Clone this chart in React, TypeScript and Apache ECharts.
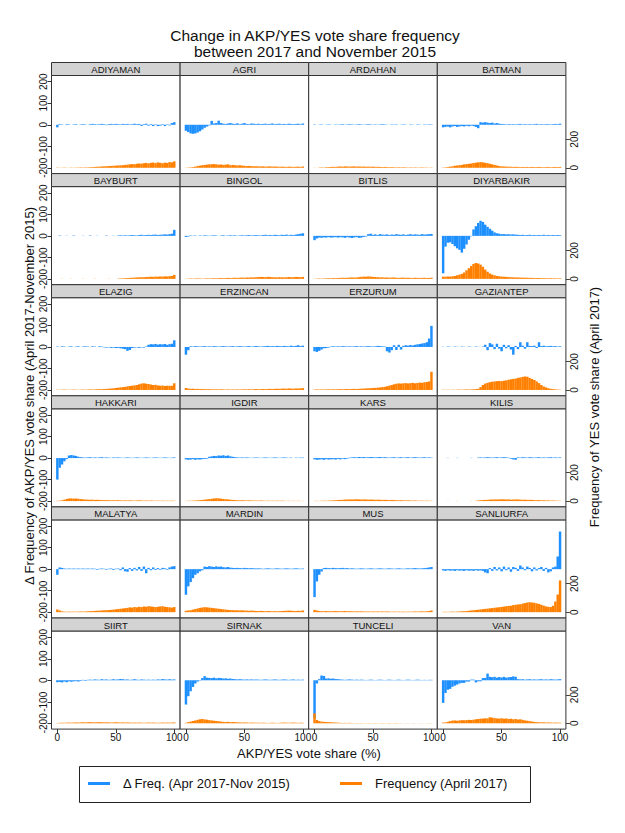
import React, { useEffect, useRef } from 'react';
import * as echarts from 'echarts';

// ---- bins (AKP/YES vote share, %) and tick values ----
const xBins = [0, 2, 4, 6, 8, 10, 12, 14, 16, 18, 20, 22, 24, 26, 28, 30, 32, 34, 36, 38, 40, 42, 44, 46, 48, 50, 52, 54, 56, 58, 60, 62, 64, 66, 68, 70, 72, 74, 76, 78, 80, 82, 84, 86, 88, 90, 92, 94, 96, 98, 100];
const xTicks = [0, 50, 100];
const leftTicks = [-200, -100, 0, 100, 200];
const rightTicks = [0, 200];

// ---- series values per province (delta = Δ freq, freq = April 2017 frequency) ----
const adiyamanDelta = [-12,3,2,0,3,2,0,2,3,0, 2,3,2,0,3,4,3,2,3,4, 3,-2,3,4,3,4,3,2,4,3, 4,2,3,5,3,4,-5,3,5,-4, 3,-6,2,-6,-4,3,-6,2,-3,8, 12];
const adiyamanFreq = [2,1,1,2,1,1,2,1,2,2, 3,2,3,3,4,5,6,7,8,9, 10,11,12,13,14,15,16,17,18,20, 22,24,26,25,28,30,29,32,34,31, 35,37,33,38,35,32,36,34,40,38, 45];
const agriDelta = [-28,-34,-40,-42,-40,-36,-30,-22,-14,-8, -3,18,6,8,19,8,5,4,6,8, 5,4,7,3,5,8,4,3,6,5, 4,5,3,4,5,3,4,6,3,4, 5,3,4,3,5,4,3,4,5,3, 6];
const agriFreq = [1,2,3,5,8,12,15,18,20,22, 24,25,26,24,22,23,20,22,24,18, 20,18,16,18,15,14,12,13,12,10, 11,10,9,10,8,9,10,8,9,8, 7,8,7,6,8,7,6,7,8,6, 9];
const ardahanDelta = [2,0,1,2,0,1,2,1,0,2, 1,2,3,1,2,3,2,1,2,3, 2,1,2,3,2,1,2,1,2,3, 2,1,0,2,1,2,0,1,2,1, 0,2,1,0,2,1,0,2,1,2, 2];
const ardahanFreq = [1,0,2,3,2,4,5,6,7,6, 8,9,8,10,9,8,9,10,8,9, 8,9,7,8,7,8,6,7,6,5, 6,5,4,5,4,3,4,3,4,3, 2,3,2,3,2,2,3,2,2,1, 2];
const batmanDelta = [-12,-10,-8,-12,-8,-6,-10,-8,-6,-8, -5,-7,-4,-6,-10,-16,12,10,12,10, 8,10,6,8,5,4,3,2,3,2, 3,2,3,4,2,3,2,3,2,3, 4,2,3,2,3,3,2,3,4,3, 5];
const batmanFreq = [2,3,5,8,10,14,16,18,20,24, 26,28,30,34,36,38,40,38,35,32, 28,24,20,16,12,10,9,8,8,7, 6,7,6,5,6,5,6,5,6,5, 5,6,5,4,5,6,4,5,6,5, 6];
const bayburtDelta = [0,2,0,0,1,0,0,2,0,0, 0,1,0,0,2,0,0,1,0,0, 0,2,0,0,1,0,2,3,2,3, 2,3,4,3,2,4,5,3,4,5, 4,5,6,4,5,6,7,6,8,10, 28];
const bayburtFreq = [0,0,1,0,0,0,1,0,0,0, 0,1,0,0,0,0,1,0,0,0, 0,0,1,0,0,0,2,3,4,5, 6,7,8,9,10,11,12,11,13,14, 15,14,16,15,17,16,18,17,19,20, 28];
const bingolDelta = [-5,-3,2,1,2,0,2,1,3,2, 1,2,3,2,0,2,3,1,2,3, 2,3,1,2,3,2,3,4,2,3, 4,3,2,4,5,3,4,3,5,4, 3,5,4,6,3,5,4,6,8,10, 12];
const bingolFreq = [1,2,3,2,3,4,3,2,3,4, 3,4,5,4,5,6,5,6,7,6, 7,8,7,8,9,8,10,9,11,10, 12,13,14,13,12,14,13,12,11,10, 12,11,10,12,13,11,12,14,13,12, 14];
const bitlisDelta = [-20,-12,-8,-9,-7,-8,-6,-8,-7,-6, -8,-6,-7,-9,-6,-8,-10,-7,-6,-9, -8,-5,-3,8,10,5,7,4,8,6, 5,7,4,6,5,8,6,5,7,4, 6,8,5,7,6,5,8,6,7,8, 9];
const bitlisFreq = [1,2,3,2,3,4,5,4,6,5, 6,7,8,7,8,9,10,9,10,12, 14,16,15,17,16,14,13,12,10,11, 9,10,8,9,10,8,7,8,9,7, 8,7,6,8,7,6,7,8,6,7, 8];
const diyarbakirDelta = [-174,-50,-32,-30,-38,-48,-58,-65,-78,-60, -40,-18,-2,30,45,60,70,65,52,42, 33,24,16,12,10,8,8,7,8,6, 7,6,5,4,5,3,4,5,3,4, 3,4,3,5,3,4,3,4,3,4, 3];
const diyarbakirFreq = [16,15,17,16,18,20,25,30,35,45, 60,75,90,105,112,108,100,85,65,50, 38,30,25,20,18,16,15,14,13,12, 11,10,10,9,9,8,8,7,7,6, 6,6,5,5,5,4,5,4,4,3, 4];
const elazigDelta = [2,0,3,2,0,2,3,0,2,3, 0,2,3,2,0,3,2,0,3,2, -2,-3,-2,-4,-3,-5,-4,-6,-8,-10, -18,-14,-5,-3,-2,-4,-2,-3,2,10, 13,12,14,11,13,12,14,10,13,15, 31];
const elazigFreq = [2,1,2,3,2,1,2,3,2,1, 2,3,2,3,4,3,4,5,6,5, 7,8,9,10,12,14,16,18,20,22, 25,28,30,32,35,40,45,47,44,42, 38,35,36,32,30,31,28,30,29,30, 47];
const erzincanDelta = [-36,-15,3,2,4,3,2,3,4,2, 3,2,4,3,2,3,4,3,2,3, 4,2,3,4,3,2,3,4,2,3, 4,3,2,3,4,5,3,4,3,5, 4,3,5,4,3,6,4,5,8,4, 6];
const erzincanFreq = [14,10,8,9,7,8,6,7,6,5, 6,5,4,5,4,5,4,3,4,3, 4,3,4,3,4,5,4,5,4,5, 6,5,6,7,6,7,8,7,8,9, 8,9,10,9,11,10,9,11,10,12, 13];
const erzurumDelta = [-20,-23,-18,-12,-6,-5,-3,2,3,2, 3,2,4,3,2,3,2,3,4,2, 3,2,3,4,3,2,3,5,4,3, 2,-20,-26,-15,8,-14,10,-12,5,8, 6,9,7,10,12,14,16,18,22,39, 98];
const erzurumFreq = [3,4,3,4,3,4,5,4,5,4, 5,6,5,6,7,6,7,8,7,8, 9,10,11,12,13,14,15,16,18,20, 22,26,30,35,40,44,46,45,47,48, 46,48,50,47,49,52,50,54,56,60, 128];
const gaziantepDelta = [1,0,2,1,0,2,1,0,2,1, 0,2,1,0,2,1,0,2,10,-15, 18,12,-10,15,-8,-20,10,-6,8,-12, -36,5,-10,22,6,-8,22,5,4,6, -5,22,4,6,3,4,5,3,4,2, 3];
const gaziantepFreq = [2,1,2,1,2,1,2,3,2,3, 4,3,4,5,6,8,20,35,45,50, 55,58,60,62,63,62,65,68,72,75, 78,80,85,88,92,95,93,85,78,70, 60,48,35,25,18,12,8,6,4,3, 2];
const hakkariDelta = [-100,-45,-30,-15,-5,12,14,12,10,6, 4,3,2,3,4,2,3,2,3,4, 2,3,2,1,3,2,3,2,1,2, 3,2,1,2,3,2,1,2,3,2, 1,2,3,2,1,2,3,2,1,2, 3];
const hakkariFreq = [2,3,5,10,15,18,19,17,18,16, 14,12,11,10,9,10,8,9,8,7, 6,7,6,5,6,5,6,5,4,5, 4,5,4,3,4,5,4,3,4,3, 4,3,2,3,2,3,2,3,2,3, 2];
const igdirDelta = [-6,-8,-7,-5,-8,-6,-7,-5,-4,-3, 6,8,10,9,12,11,13,10,12,8, 6,4,3,2,3,2,3,2,1,2, 3,2,1,2,3,2,1,2,3,2, 1,2,3,2,1,2,0,2,1,2, 2];
const igdirFreq = [1,2,2,3,4,5,6,8,10,12, 14,16,18,20,19,17,15,13,12,10, 8,7,6,5,6,5,4,5,4,3, 4,3,4,3,2,3,2,3,2,3, 2,3,2,1,2,1,2,1,2,1, 1];
const karsDelta = [-6,-8,-7,-6,-8,-5,-7,-6,-5,-7, -4,-6,-3,-5,-3,2,3,4,3,5, 4,5,3,4,5,4,3,4,5,3, 4,3,2,3,4,2,3,4,2,3, 4,2,3,4,3,2,3,4,2,3, 2];
const karsFreq = [1,2,1,2,3,2,3,4,5,6, 7,8,9,10,11,12,11,12,13,12, 11,12,11,10,11,10,9,10,9,8, 9,8,7,8,7,6,5,6,5,4, 5,4,3,4,3,2,3,2,3,2, 2];
const kilisDelta = [0,0,1,0,0,0,1,0,0,0, 0,0,1,0,0,2,3,2,3,4, 3,2,3,4,2,3,4,3,2,-3, -6,-8,3,2,4,3,2,4,3,2, 3,4,2,3,2,3,4,2,3,2, 3];
const kilisFreq = [0,0,1,0,0,0,1,0,0,0, 0,0,1,0,2,4,6,7,8,9, 10,11,12,11,12,13,12,11,12,10, 11,12,11,10,9,10,8,9,8,7, 6,7,5,6,4,5,3,4,3,2, 2];
const malatyaDelta = [-26,8,6,3,2,3,2,3,2,3, 2,3,2,3,2,3,2,-3,2,3, 2,-3,2,3,-4,2,3,-5,8,-10, -12,5,-8,6,-6,10,-8,12,-19,6, -5,8,-4,5,-3,6,4,-3,8,12, 14];
const malatyaFreq = [19,12,6,4,3,4,3,4,3,4, 5,4,5,6,7,8,9,10,11,12, 13,14,15,16,18,20,22,24,26,28, 30,34,32,36,34,38,36,40,38,42, 40,38,36,38,40,42,38,36,34,32, 36];
const mardinDelta = [-119,-80,-60,-42,-26,-19,-10,-5,12,10, 14,12,10,13,11,12,9,8,10,7, 6,5,6,5,4,6,5,4,5,4, 3,4,3,2,3,4,3,2,3,4, 3,2,3,4,3,2,3,4,3,2, 3];
const mardinFreq = [10,12,14,18,22,26,30,33,35,34, 32,30,28,26,24,22,20,18,16,15, 14,13,14,12,13,12,11,10,11,10, 9,8,9,8,7,8,7,6,7,6, 7,8,9,10,11,10,9,8,10,9, 12];
const musDelta = [-130,-57,-26,-11,5,6,5,4,6,5, 4,5,6,4,5,3,4,3,2,3, 4,3,2,3,4,3,2,3,4,3, 2,3,4,3,2,3,4,3,2,3, 4,3,4,5,4,3,4,5,6,8, 10];
const musFreq = [16,12,8,7,6,8,7,6,7,8, 7,6,7,8,6,7,6,5,6,5, 6,5,4,5,4,5,4,5,4,5, 4,5,4,3,4,3,4,3,4,3, 4,3,4,5,4,5,6,5,6,8, 12];
const sanliurfaDelta = [-6,-8,-5,-7,-6,-8,-5,-7,-6,-8, -5,-7,-6,-8,-5,-7,-6,-8,-15,-19, 5,-8,10,-6,8,-10,12,-5,8,-12, 10,6,-8,17,8,-5,12,6,-10,8, -6,5,10,-8,6,-15,-10,8,12,59, 175];
const sanliurfaFreq = [2,3,2,3,4,3,4,5,6,7, 8,10,12,14,15,17,19,21,23,25, 27,29,31,33,35,37,39,42,44,46, 50,52,54,56,60,64,68,70,68,66, 62,58,52,46,40,38,36,45,75,124, 223];
const siirtDelta = [-9,-8,-10,-6,-9,-5,-7,-5,-4,-6, -3,2,-3,2,3,2,4,3,2,5, 3,4,2,3,5,3,4,6,5,3, 4,2,3,5,3,2,4,3,2,3, 2,3,2,4,3,6,4,3,5,3, 4];
const siirtFreq = [2,3,4,3,4,5,4,5,6,5, 6,7,6,7,8,7,6,7,8,7, 6,7,6,5,6,7,6,5,6,5, 6,5,4,5,4,5,4,3,4,5, 4,5,4,3,4,5,4,5,4,5, 6];
const sirnakDelta = [-113,-74,-51,-31,-15,-6,-2,10,19,12, 11,10,12,9,11,10,8,9,7,8, 6,5,4,5,4,3,4,3,4,3, 4,3,2,3,4,3,2,3,4,3, 2,3,4,3,2,3,4,2,3,2, 3];
const sirnakFreq = [3,8,12,16,20,24,28,30,27,25, 22,20,18,16,14,12,10,9,10,8, 9,8,7,6,5,6,5,4,5,4, 3,4,3,4,3,2,3,4,3,2, 3,4,5,4,3,4,5,4,3,4, 3];
const tunceliDelta = [-175,-15,5,22,20,8,9,7,8,6, 5,4,3,2,3,4,3,2,3,2, 3,2,1,2,3,2,1,2,3,2, 1,2,3,2,1,2,3,2,1,2, 3,2,1,2,3,2,1,2,1,2, 2];
const tunceliFreq = [70,23,15,12,10,9,8,7,6,5, 4,3,2,3,2,3,2,1,2,1, 2,1,1,2,1,1,2,1,1,2, 1,1,2,1,1,2,1,1,0,1, 1,0,1,1,0,1,1,0,1,1, 1];
const vanDelta = [-105,-59,-44,-40,-30,-25,-20,-15,-12,-12, -6,-6,3,3,-10,-5,-5,10,11,31, 16,14,16,12,15,13,16,12,14,15, 18,16,5,4,5,3,4,5,3,4, 3,4,5,3,4,3,5,4,3,4, 5];
const vanFreq = [5,6,10,15,19,20,18,20,22,21, 22,24,23,25,28,30,32,33,35,34, 42,40,36,34,33,35,32,34,30,32, 28,30,26,28,24,20,18,15,12,10, 8,7,6,7,5,6,5,4,5,4, 4];

const provinces = [
  { name: 'ADIYAMAN', delta: adiyamanDelta, freq: adiyamanFreq },
  { name: 'AGRI', delta: agriDelta, freq: agriFreq },
  { name: 'ARDAHAN', delta: ardahanDelta, freq: ardahanFreq },
  { name: 'BATMAN', delta: batmanDelta, freq: batmanFreq },
  { name: 'BAYBURT', delta: bayburtDelta, freq: bayburtFreq },
  { name: 'BINGOL', delta: bingolDelta, freq: bingolFreq },
  { name: 'BITLIS', delta: bitlisDelta, freq: bitlisFreq },
  { name: 'DIYARBAKIR', delta: diyarbakirDelta, freq: diyarbakirFreq },
  { name: 'ELAZIG', delta: elazigDelta, freq: elazigFreq },
  { name: 'ERZINCAN', delta: erzincanDelta, freq: erzincanFreq },
  { name: 'ERZURUM', delta: erzurumDelta, freq: erzurumFreq },
  { name: 'GAZIANTEP', delta: gaziantepDelta, freq: gaziantepFreq },
  { name: 'HAKKARI', delta: hakkariDelta, freq: hakkariFreq },
  { name: 'IGDIR', delta: igdirDelta, freq: igdirFreq },
  { name: 'KARS', delta: karsDelta, freq: karsFreq },
  { name: 'KILIS', delta: kilisDelta, freq: kilisFreq },
  { name: 'MALATYA', delta: malatyaDelta, freq: malatyaFreq },
  { name: 'MARDIN', delta: mardinDelta, freq: mardinFreq },
  { name: 'MUS', delta: musDelta, freq: musFreq },
  { name: 'SANLIURFA', delta: sanliurfaDelta, freq: sanliurfaFreq },
  { name: 'SIIRT', delta: siirtDelta, freq: siirtFreq },
  { name: 'SIRNAK', delta: sirnakDelta, freq: sirnakFreq },
  { name: 'TUNCELI', delta: tunceliDelta, freq: tunceliFreq },
  { name: 'VAN', delta: vanDelta, freq: vanFreq },
];

const FONT = '"Liberation Sans", Arial, Helvetica, sans-serif';
const BLUE = '#1E8FFF';
const ORANGE = '#FF8000';
const DELTA_NAME = 'Δ Freq. (Apr 2017-Nov 2015)';
const FREQ_NAME = 'Frequency (April 2017)';

function buildOption() {
  const X0 = 51.5, PW = 128.6, Y0 = 62.5, RH = 111.1, SH = 13;
  const grid: any[] = [];
  const xAxis: any[] = [];
  const yAxis: any[] = [];
  const series: any[] = [];
  const graphic: any[] = [];

  provinces.forEach((p, k) => {
    const row = Math.floor(k / 4);
    const col = k % 4;
    const left = X0 + col * PW;
    const top = Y0 + row * RH;
    const bottomRow = row === 5;
    const firstCol = col === 0;
    const lastCol = col === 3;

    grid.push({
      left, top: top + SH, width: PW, height: RH - SH,
      show: true, borderColor: '#333', borderWidth: 1, backgroundColor: '#fff',
      containLabel: false, outerBoundsMode: 'none',
    });

    xAxis.push({
      type: 'value', gridIndex: k, min: -5, max: 105, position: 'bottom',
      axisLine: { show: false, onZero: false }, splitLine: { show: false },
      axisTick: { show: bottomRow, customValues: xTicks, length: 4, lineStyle: { color: '#333', width: 1 } },
      axisLabel: { show: bottomRow, customValues: xTicks, margin: 3, fontSize: 10, color: '#111', fontFamily: FONT },
    });

    yAxis.push({
      type: 'value', gridIndex: k, position: 'left', min: -227, max: 229,
      axisLine: { show: false, onZero: false }, splitLine: { show: false },
      axisTick: { show: firstCol, customValues: leftTicks, length: 4, lineStyle: { color: '#333', width: 1 } },
      axisLabel: {
        show: firstCol, customValues: leftTicks, rotate: 90, margin: 3,
        align: 'center', verticalAlign: 'bottom', fontSize: 10, color: '#111', fontFamily: FONT,
      },
    });
    yAxis.push({
      type: 'value', gridIndex: k, position: 'right', min: -41, max: 649,
      axisLine: { show: false, onZero: false }, splitLine: { show: false },
      axisTick: { show: lastCol, customValues: rightTicks, length: 4, lineStyle: { color: '#444', width: 1 } },
      axisLabel: {
        show: lastCol, customValues: rightTicks, rotate: 90, margin: 3.5,
        align: 'center', verticalAlign: 'top', fontSize: 10, color: '#111', fontFamily: FONT,
      },
    });

    series.push({
      type: 'bar', name: DELTA_NAME, xAxisIndex: k, yAxisIndex: 2 * k,
      data: p.delta.map((v, i) => [xBins[i], v]),
      barWidth: 2.45, barGap: '-100%', itemStyle: { color: BLUE }, silent: true,
    });
    series.push({
      type: 'bar', name: FREQ_NAME, xAxisIndex: k, yAxisIndex: 2 * k + 1,
      data: p.freq.map((v, i) => [xBins[i], v]),
      barWidth: 2.45, barGap: '-100%', itemStyle: { color: ORANGE }, silent: true, z: 3,
    });

    graphic.push({
      type: 'rect', shape: { x: left, y: top, width: PW, height: SH },
      style: { fill: '#d3d3d3', stroke: '#333', lineWidth: 1 }, z: 10,
    });
    graphic.push({
      type: 'text', x: left + PW / 2, y: top + SH / 2 + 0.5, z: 11,
      style: { text: p.name, fill: '#111', fontSize: 9.5, fontFamily: FONT, align: 'center', verticalAlign: 'middle' },
    });
  });

  // axis titles
  graphic.push({
    type: 'text', x: 29, y: 396, rotation: Math.PI / 2, z: 11,
    style: { text: 'Δ Frequency of AKP/YES vote share (April 2017-November 2015)', fill: '#111', fontSize: 13, fontFamily: FONT, align: 'center', verticalAlign: 'middle' },
  });
  graphic.push({
    type: 'text', x: 594, y: 407, rotation: Math.PI / 2, z: 11,
    style: { text: 'Frequency of YES vote share (April 2017)', fill: '#111', fontSize: 13, fontFamily: FONT, align: 'center', verticalAlign: 'middle' },
  });
  graphic.push({
    type: 'text', x: 309, y: 753, z: 11,
    style: { text: 'AKP/YES vote share (%)', fill: '#111', fontSize: 13, fontFamily: FONT, align: 'center', verticalAlign: 'middle' },
  });
  // legend frame
  graphic.push({
    type: 'rect', shape: { x: 79.5, y: 766.5, width: 451, height: 36 },
    style: { fill: 'none', stroke: '#222', lineWidth: 1 }, z: 1,
  });

  const legendBase = {
    orient: 'horizontal', top: 777, itemWidth: 22, itemHeight: 3, icon: 'rect', padding: 0,
    selectedMode: false,
    textStyle: { fontSize: 13, color: '#111', fontFamily: FONT, padding: [0, 0, 0, 8] },
  };

  return {
    animation: false,
    textStyle: { fontFamily: FONT },
    title: {
      text: 'Change in AKP/YES vote share frequency\nbetween 2017 and November 2015',
      left: 310, textAlign: 'center', top: 22,
      textStyle: { fontSize: 15.5, fontWeight: 'normal', color: '#111', lineHeight: 16.5, fontFamily: FONT },
    },
    legend: [
      { ...legendBase, data: [DELTA_NAME], left: 88 },
      { ...legendBase, data: [FREQ_NAME], left: 340 },
    ],
    grid, xAxis, yAxis, series, graphic,
  };
}

export default function App() {
  const ref = useRef<HTMLDivElement>(null);
  useEffect(() => {
    document.body.style.margin = '0';
    const chart = echarts.init(ref.current as HTMLDivElement, null, { renderer: 'svg' });
    chart.setOption(buildOption() as any);
    return () => chart.dispose();
  }, []);
  return <div ref={ref} style={{ width: 625, height: 833 }} />;
}
